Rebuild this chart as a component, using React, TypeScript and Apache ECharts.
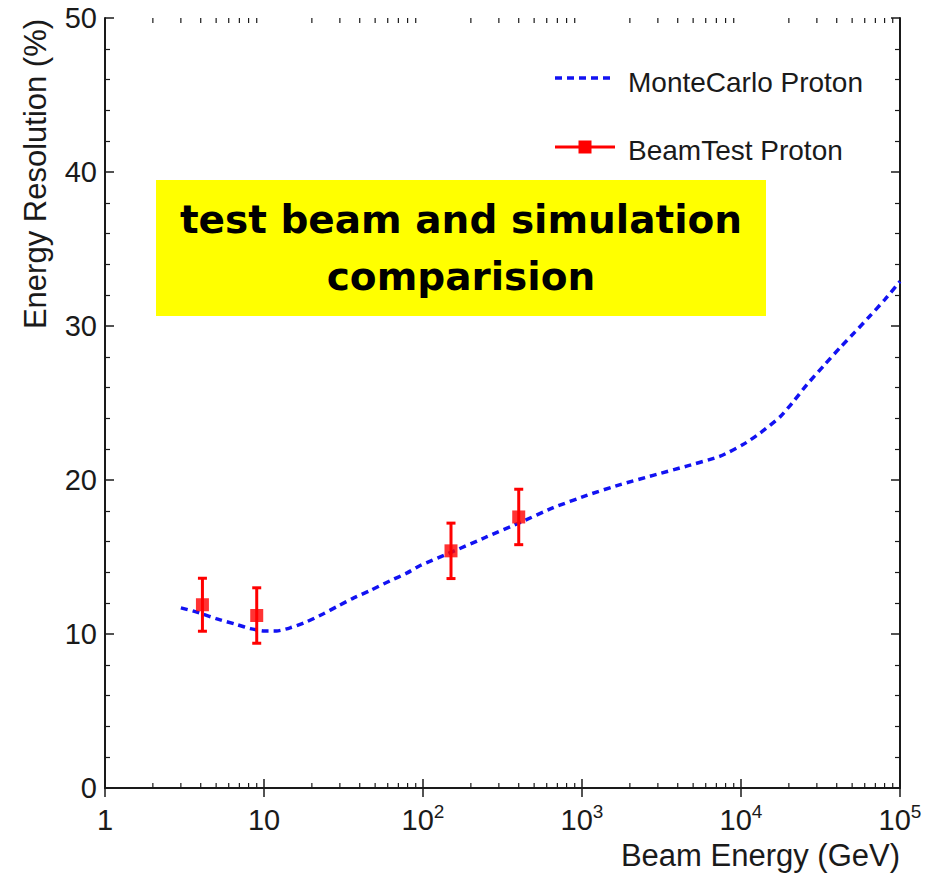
import React, { useEffect, useRef } from "react";
import * as echarts from "echarts";

// Monte Carlo proton curve (Beam Energy GeV, Energy Resolution %)
const mcEnergy = [3, 3.7, 4.1, 5, 6.8, 8.2, 10, 12, 14.6, 18.6, 23.5, 29, 36, 46, 62, 79, 96, 150, 250, 400, 660, 1070, 1740, 2800, 4550, 7400, 10300, 13200, 17600, 21000, 26000, 33000, 42000, 52000, 64000, 80000, 100000];
const mcResolution = [11.7, 11.45, 11.3, 11.0, 10.6, 10.35, 10.2, 10.2, 10.4, 10.8, 11.3, 11.8, 12.3, 12.8, 13.45, 13.95, 14.45, 15.3, 16.3, 17.2, 18.2, 19.0, 19.7, 20.3, 20.9, 21.55, 22.3, 23.05, 24.1, 25.0, 26.2, 27.4, 28.6, 29.6, 30.6, 31.7, 32.9];

// Beam test proton points
const btEnergy = [4.1, 9, 150, 400];
const btResolution = [11.9, 11.2, 15.4, 17.6];
const btError = [1.72, 1.8, 1.8, 1.8];

// Axes
const xMin = 1;
const xMax = 100000;
const yMin = 0;
const yMax = 50;
const yInterval = 10;
const xTickExponents = [0, 1, 2, 3, 4, 5];
const xTickLabels = ["{b|1}", "{b|10}", "{b|10}{s|2}", "{b|10}{s|3}", "{b|10}{s|4}", "{b|10}{s|5}"];
const xMinorTicks: number[] = [];
for (let d = 1; d < xMax; d *= 10) {
  for (let m = 2; m <= 9; m++) xMinorTicks.push(m * d);
}

const legendNames = ["MonteCarlo Proton", "BeamTest Proton"];
const xAxisTitle = "Beam Energy (GeV)";
const yAxisTitle = "Energy Resolution (%)";
const bannerText = "test beam and simulation\ncomparision";

const FONT = "'Liberation Sans', Arial, Helvetica, sans-serif";
const INK = "#1a1a1a";
const BLUE = "#1212f2";
const RED = "#ff0000";

export default function App() {
  const ref = useRef<HTMLDivElement>(null);

  useEffect(() => {
    if (!ref.current) return;
    const chart = echarts.init(ref.current, undefined, { renderer: "svg" });

    const axisLine = { show: true, lineStyle: { color: INK, width: 2 } };

    const option: any = {
      animation: false,
      backgroundColor: "#ffffff",
      grid: { left: 105, right: 30, top: 18, bottom: 86, containLabel: false, outerBoundsMode: "none" },
      xAxis: [
        {
          type: "log",
          logBase: 10,
          min: xMin,
          max: xMax,
          position: "bottom",
          axisLine,
          axisTick: { show: true, inside: true, length: 9, lineStyle: { color: INK, width: 1.5 } },
          splitLine: { show: false },
          axisLabel: {
            show: true,
            margin: 14,
            color: INK,
            fontFamily: FONT,
            formatter: (v: number) => {
              const e = Math.round(Math.log10(v));
              const i = xTickExponents.indexOf(e);
              return i >= 0 ? xTickLabels[i] : "";
            },
            rich: {
              b: { fontSize: 29, lineHeight: 36, fontFamily: FONT, color: INK },
              s: { fontSize: 19, lineHeight: 19, verticalAlign: "top", fontFamily: FONT, color: INK },
            },
          },
        },
        {
          type: "log",
          logBase: 10,
          min: xMin,
          max: xMax,
          position: "top",
          axisLine,
          axisTick: { show: true, inside: true, length: 9, lineStyle: { color: INK, width: 1.5 } },
          splitLine: { show: false },
          axisLabel: { show: false },
        },
      ],
      yAxis: [
        {
          type: "value",
          min: yMin,
          max: yMax,
          interval: yInterval,
          position: "left",
          axisLine,
          axisTick: { show: true, inside: true, length: 9, lineStyle: { color: INK, width: 1.5 } },
          minorTick: { show: true, splitNumber: 5, length: 5, lineStyle: { color: INK, width: 1.2 } },
          splitLine: { show: false },
          minorSplitLine: { show: false },
          axisLabel: { show: true, margin: 8, fontSize: 29, color: INK, fontFamily: FONT },
        },
        {
          type: "value",
          min: yMin,
          max: yMax,
          interval: yInterval,
          position: "right",
          axisLine,
          axisTick: { show: true, inside: true, length: 9, lineStyle: { color: INK, width: 1.5 } },
          minorTick: { show: true, splitNumber: 5, length: 5, lineStyle: { color: INK, width: 1.2 } },
          splitLine: { show: false },
          minorSplitLine: { show: false },
          axisLabel: { show: false },
        },
      ],
      series: [
        {
          name: "minorTicks",
          type: "custom",
          xAxisIndex: 0,
          yAxisIndex: 0,
          silent: true,
          clip: false,
          data: xMinorTicks.map((v) => [v, yMin]),
          renderItem: (params: any, api: any) => {
            const v = api.value(0);
            const b = api.coord([v, yMin]);
            const t = api.coord([v, yMax]);
            const style = { stroke: INK, lineWidth: 1.2 };
            return {
              type: "group",
              children: [
                { type: "line", shape: { x1: b[0], y1: b[1], x2: b[0], y2: b[1] - 5 }, style },
                { type: "line", shape: { x1: t[0], y1: t[1], x2: t[0], y2: t[1] + 5 }, style },
              ],
            };
          },
        },
        {
          name: legendNames[0],
          type: "line",
          xAxisIndex: 0,
          yAxisIndex: 0,
          data: mcEnergy.map((x, i) => [x, mcResolution[i]]),
          showSymbol: false,
          symbol: "none",
          smooth: 0.2,
          lineStyle: { color: BLUE, width: 3.5, type: [7, 5] },
          z: 3,
        },
        {
          name: "errorBars",
          type: "custom",
          xAxisIndex: 0,
          yAxisIndex: 0,
          data: btEnergy.map((x, i) => [x, btResolution[i] - btError[i], btResolution[i] + btError[i]]),
          renderItem: (params: any, api: any) => {
            const x = api.value(0);
            const lo = api.coord([x, api.value(1)]);
            const hi = api.coord([x, api.value(2)]);
            const style = { stroke: RED, lineWidth: 3 };
            return {
              type: "group",
              children: [
                { type: "line", shape: { x1: lo[0], y1: lo[1], x2: hi[0], y2: hi[1] }, style },
                { type: "line", shape: { x1: lo[0] - 4.5, y1: lo[1], x2: lo[0] + 4.5, y2: lo[1] }, style },
                { type: "line", shape: { x1: hi[0] - 4.5, y1: hi[1], x2: hi[0] + 4.5, y2: hi[1] }, style },
              ],
            };
          },
          z: 4,
        },
        {
          name: legendNames[1],
          type: "scatter",
          xAxisIndex: 0,
          yAxisIndex: 0,
          data: btEnergy.map((x, i) => [x, btResolution[i]]),
          symbol: "rect",
          symbolSize: 13,
          itemStyle: { color: RED },
          z: 5,
        },
      ],
      graphic: [
        {
          type: "rect",
          shape: { x: 156, y: 180, width: 610, height: 136 },
          style: { fill: "#ffff00" },
          z: 10,
        },
        {
          type: "text",
          x: 461,
          y: 248,
          style: {
            text: bannerText,
            fontFamily: "'DejaVu Sans', Verdana, sans-serif",
            fontWeight: "bold",
            fontSize: 39,
            lineHeight: 57,
            fill: "#000000",
            align: "center",
            verticalAlign: "middle",
          },
          z: 11,
        },
        // legend
        {
          type: "line",
          shape: { x1: 555, y1: 78, x2: 613, y2: 78 },
          style: { stroke: BLUE, lineWidth: 3.5, lineDash: [7, 5] },
          z: 10,
        },
        {
          type: "text",
          x: 628,
          y: 82,
          style: { text: legendNames[0], fontFamily: FONT, fontSize: 28, fill: INK, align: "left", verticalAlign: "middle" },
          z: 10,
        },
        {
          type: "line",
          shape: { x1: 555, y1: 147, x2: 615, y2: 147 },
          style: { stroke: RED, lineWidth: 3 },
          z: 10,
        },
        {
          type: "rect",
          shape: { x: 578.5, y: 140.5, width: 13, height: 13 },
          style: { fill: RED },
          z: 10,
        },
        {
          type: "text",
          x: 628,
          y: 150,
          style: { text: legendNames[1], fontFamily: FONT, fontSize: 28, fill: INK, align: "left", verticalAlign: "middle" },
          z: 10,
        },
        // axis titles
        {
          type: "text",
          x: 900,
          y: 855,
          style: { text: xAxisTitle, fontFamily: FONT, fontSize: 31, fill: INK, align: "right", verticalAlign: "middle" },
          z: 10,
        },
        {
          type: "text",
          x: 35,
          y: 174,
          rotation: Math.PI / 2,
          style: { text: yAxisTitle, fontFamily: FONT, fontSize: 31, fill: INK, align: "center", verticalAlign: "middle" },
          z: 10,
        },
      ],
    };

    chart.setOption(option);
    return () => chart.dispose();
  }, []);

  return (
    <div
      ref={ref}
      style={{ position: "fixed", left: 0, top: 0, width: 930, height: 874, background: "#fff" }}
    />
  );
}
